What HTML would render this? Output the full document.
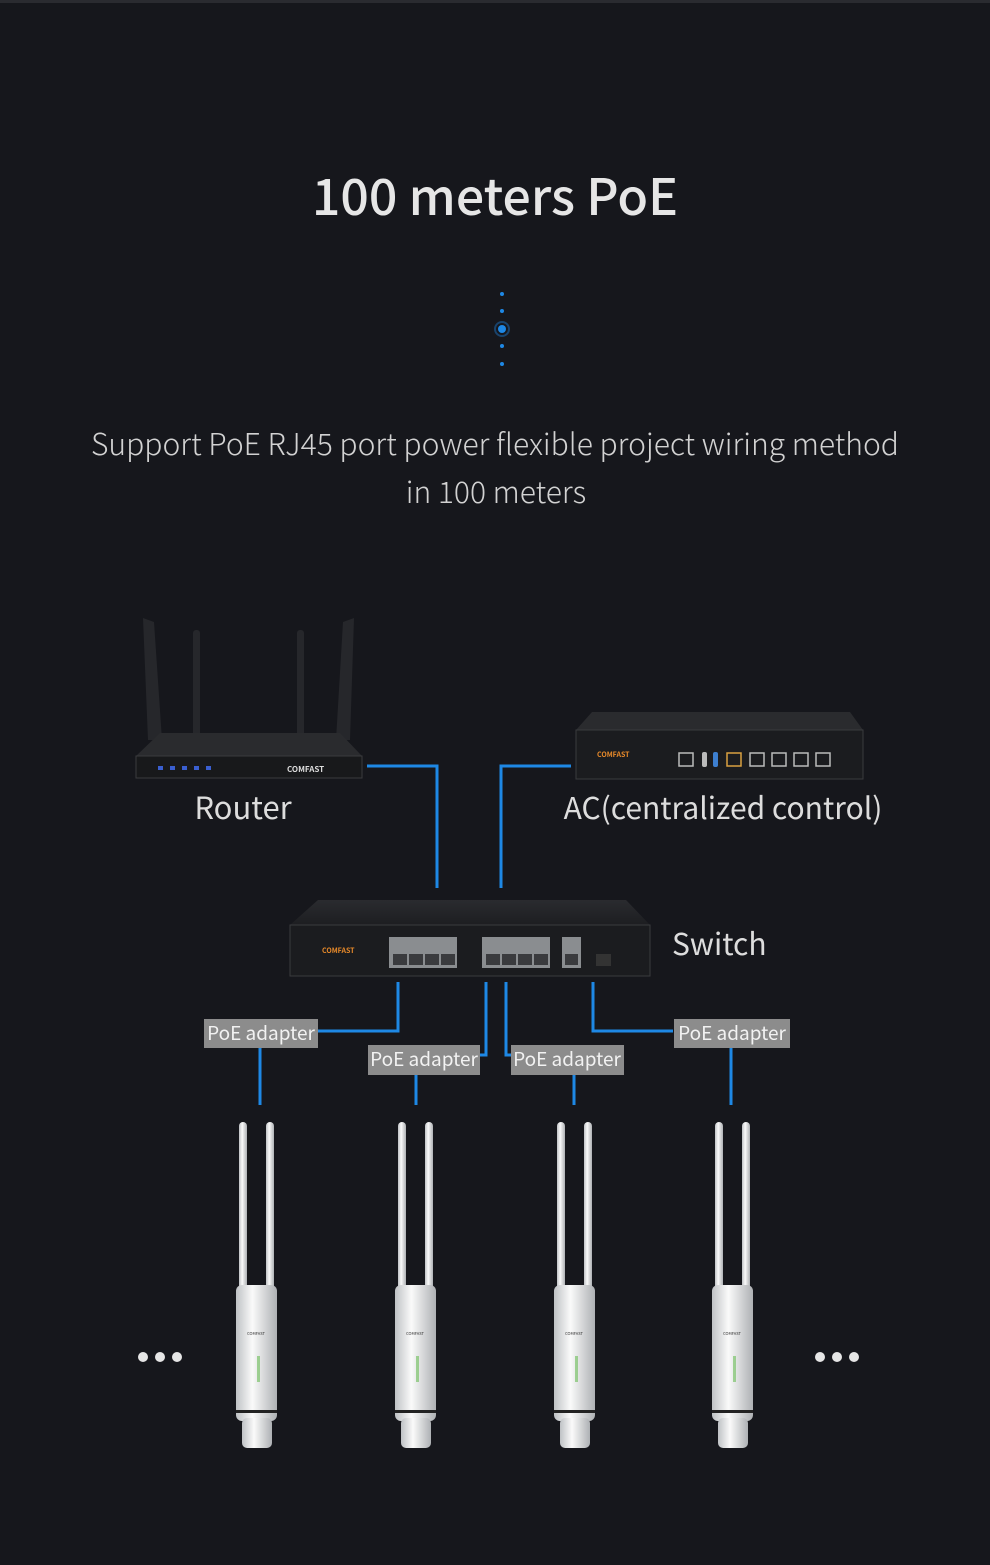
<!DOCTYPE html>
<html><head><meta charset="utf-8"><style>
html,body{margin:0;padding:0;background:#16171c;}
body{width:990px;height:1560px;overflow:hidden;font-family:"Noto Sans CJK SC","Liberation Sans",sans-serif;}
</style></head><body>
<svg width="990" height="1560" viewBox="0 0 990 1560" xmlns="http://www.w3.org/2000/svg" font-family="Noto Sans CJK SC, Liberation Sans, sans-serif">
<defs>
<linearGradient id="ap" x1="0" x2="1"><stop offset="0" stop-color="#bfc2c5"/><stop offset="0.4" stop-color="#fafafa"/><stop offset="1" stop-color="#aeb1b4"/></linearGradient>
<linearGradient id="top" x1="0" y1="0" x2="0" y2="1"><stop offset="0" stop-color="#2a2b2f"/><stop offset="1" stop-color="#1d1e21"/></linearGradient>
<g id="apu">
<rect x="-19" y="0" width="8" height="175" rx="4" fill="url(#ap)"/>
<rect x="8" y="0" width="8" height="175" rx="4" fill="url(#ap)"/>
<rect x="-22" y="163" width="41" height="136" rx="6" fill="url(#ap)"/>
<rect x="-22" y="288" width="41" height="3" fill="#222"/>
<rect x="-16" y="296" width="30" height="30" rx="5" fill="url(#ap)"/>
<text x="-2" y="213" font-size="4" fill="#333" text-anchor="middle">COMFAST</text>
<rect x="-1" y="234" width="3" height="26" fill="#7cc36b" opacity="0.7"/>
</g>
</defs>
<rect x="0" y="0" width="990" height="3" fill="#2a2b30"/>
<text x="495" y="215" font-size="50" font-weight="500" fill="#e6e6e6" text-anchor="middle">100 meters PoE</text>
<g fill="#1e88e5">
<circle cx="502" cy="294" r="2"/><circle cx="502" cy="311" r="2"/>
<circle cx="502" cy="329" r="4"/><circle cx="502" cy="329" r="7" fill="none" stroke="#1e88e5" stroke-opacity="0.4" stroke-width="2"/>
<circle cx="502" cy="346" r="2"/><circle cx="502" cy="364" r="2"/>
</g>
<text x="495" y="455" font-size="30" fill="#d2d2d2" text-anchor="middle" font-weight="300" textLength="808" lengthAdjust="spacingAndGlyphs">Support PoE RJ45 port power flexible project wiring method</text>
<text x="496" y="503" font-size="30" fill="#d2d2d2" text-anchor="middle" font-weight="300">in 100 meters</text>

<!-- router -->
<g fill="#26272b">
<polygon points="143,618 154,622 162,740 148,740"/>
<rect x="193" y="630" width="7" height="110" rx="3"/>
<rect x="297" y="630" width="7" height="110" rx="3"/>
<polygon points="354,618 343,622 336,740 350,740"/>
<polygon points="160,733 340,733 362,756 136,756" fill="#2a2b2e"/>
<rect x="136" y="756" width="226" height="22" fill="#18191b" stroke="#3a3b3e" stroke-width="1"/>
</g>
<g fill="#3a5fd0"><rect x="158" y="766" width="5" height="4"/><rect x="170" y="766" width="5" height="4"/><rect x="182" y="766" width="5" height="4"/><rect x="194" y="766" width="5" height="4"/><rect x="206" y="766" width="5" height="4"/></g>
<text x="287" y="772" font-size="8" fill="#ddd" font-weight="bold">COMFAST</text>
<text x="243" y="819" font-size="31" fill="#ddd" text-anchor="middle">Router</text>

<!-- AC -->
<polygon points="592,712 850,712 863,730 576,730" fill="#2a2b2e"/>
<rect x="576" y="730" width="287" height="49" fill="#1b1c1f" stroke="#3a3b3e"/>
<text x="597" y="757" font-size="7" fill="#e88a2a" font-weight="bold">COMFAST</text>
<g fill="none" stroke="#bbb" stroke-width="1.5"><rect x="679" y="753" width="14" height="13"/><rect x="727" y="753" width="14" height="13" stroke="#d9a040"/><rect x="750" y="753" width="14" height="13"/><rect x="772" y="753" width="14" height="13"/><rect x="794" y="753" width="14" height="13"/><rect x="816" y="753" width="14" height="13"/></g>
<rect x="702" y="752" width="5" height="15" rx="2" fill="#bbb"/><rect x="713" y="752" width="5" height="15" rx="2" fill="#3d7fd0"/>
<text x="723" y="819" font-size="30" fill="#ddd" text-anchor="middle">AC(centralized control)</text>

<!-- blue lines -->
<g fill="none" stroke="#1e88e5" stroke-width="3">
<polyline points="367,766 437,766 437,888"/>
<polyline points="571,766 501,766 501,888"/>
<polyline points="398,982 398,1031 318,1031"/>
<line x1="260" y1="1048" x2="260" y2="1105"/>
<polyline points="486,982 486,1055 480,1055"/>
<line x1="416" y1="1075" x2="416" y2="1105"/>
<polyline points="506,982 506,1055 511,1055"/>
<line x1="574" y1="1075" x2="574" y2="1105"/>
<polyline points="593,982 593,1031 673,1031"/>
<line x1="731" y1="1048" x2="731" y2="1105"/>
</g>

<!-- switch -->
<polygon points="318,900 626,900 650,925 290,925" fill="url(#top)"/>
<rect x="290" y="925" width="360" height="51" fill="#1b1c1f" stroke="#3a3b3e"/>
<text x="322" y="953" font-size="7" fill="#e88a2a" font-weight="bold">COMFAST</text>
<g fill="#8a8d90"><rect x="389" y="937" width="68" height="31"/><rect x="482" y="937" width="68" height="31"/><rect x="562" y="937" width="19" height="31"/></g>
<g fill="#3a3b3e"><rect x="393" y="954" width="14" height="11"/><rect x="409" y="954" width="14" height="11"/><rect x="425" y="954" width="14" height="11"/><rect x="441" y="954" width="14" height="11"/><rect x="486" y="954" width="14" height="11"/><rect x="502" y="954" width="14" height="11"/><rect x="518" y="954" width="14" height="11"/><rect x="534" y="954" width="14" height="11"/><rect x="565" y="954" width="13" height="11"/></g>
<rect x="596" y="954" width="15" height="12" fill="#333"/>
<text x="672" y="955" font-size="30" fill="#ddd">Switch</text>

<!-- labels -->
<g fill="#8c8c8c"><rect x="204" y="1019" width="114" height="29"/><rect x="368" y="1045" width="112" height="30"/><rect x="511" y="1045" width="113" height="30"/><rect x="674" y="1019" width="116" height="29"/></g>
<g font-size="19" fill="#f2f2f2" text-anchor="middle">
<text x="261" y="1040">PoE adapter</text><text x="424" y="1066">PoE adapter</text><text x="567" y="1066">PoE adapter</text><text x="732" y="1040">PoE adapter</text>
</g>

<use href="#apu" x="258" y="1122"/>
<use href="#apu" x="417" y="1122"/>
<use href="#apu" x="576" y="1122"/>
<use href="#apu" x="734" y="1122"/>
<g fill="#e6e6e6"><circle cx="143" cy="1357" r="5"/><circle cx="160" cy="1357" r="5"/><circle cx="177" cy="1357" r="5"/>
<circle cx="820" cy="1357" r="5"/><circle cx="837" cy="1357" r="5"/><circle cx="854" cy="1357" r="5"/></g>
</svg>
</body></html>
